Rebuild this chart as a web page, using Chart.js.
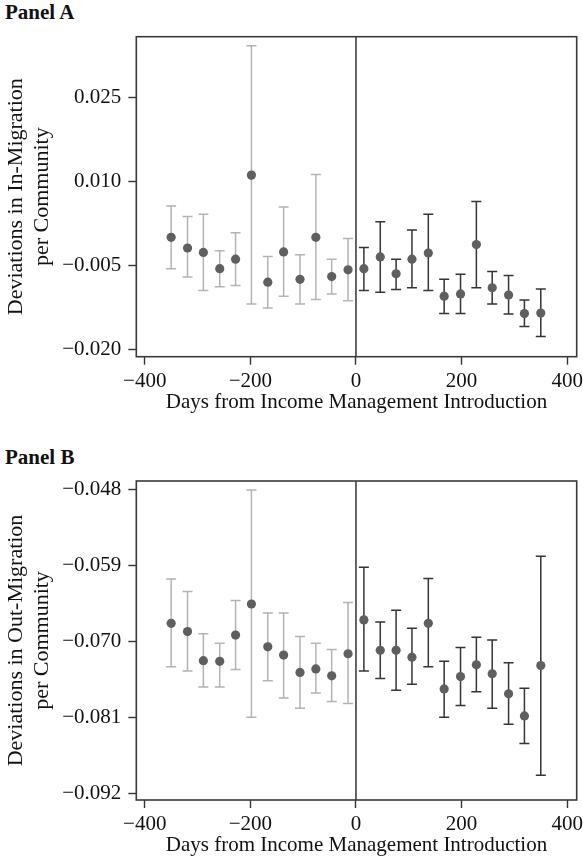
<!DOCTYPE html>
<html>
<head>
<meta charset="utf-8">
<script src="https://cdn.jsdelivr.net/npm/chart.js@4/dist/chart.umd.min.js"></script>
<style>
  html, body { margin: 0; padding: 0; background: #fff; }
  body { width: 583px; height: 863px; position: relative; overflow: hidden; }
  canvas { position: absolute; left: 0; }
  .panel { position: absolute; left: 5px; font: bold 21px "Liberation Serif", "Times New Roman", serif; line-height: 21px; color: #111; }
</style>
</head>
<body>
<div class="panel" style="top:2px">Panel A</div>
<canvas id="chartA" width="583" height="430" style="top:0"></canvas>
<div class="panel" style="top:447px">Panel B</div>
<canvas id="chartB" width="583" height="423" style="top:440px"></canvas>
<script>
// Days from introduction: monthly bins before (light) and after (dark)
const days = [-350, -319, -289, -258, -228, -198, -167, -137, -106, -76, -46, -15,
              15, 46, 76, 106, 137, 167, 198, 228, 258, 289, 319, 350];

// Panel A: in-migration deviations with confidence bounds
const inEst  = [0.0001, -0.0018, -0.0026, -0.0055, -0.0038, 0.0112, -0.0079, -0.0025, -0.0074, 0.0001, -0.0069, -0.0057,
                -0.0055, -0.0034, -0.0064, -0.0038, -0.0027, -0.0104, -0.0100, -0.0012, -0.0089, -0.0102, -0.0135, -0.0134];
const inHigh = [0.0057, 0.0038, 0.0042, -0.0023, 0.0009, 0.0343, -0.0033, 0.0055, -0.0030, 0.0113, -0.0038, -0.0001,
                -0.0017, 0.0029, -0.0038, 0.0014, 0.0042, -0.0074, -0.0065, 0.0065, -0.0060, -0.0067, -0.0111, -0.0091];
const inLow  = [-0.0055, -0.0070, -0.0094, -0.0087, -0.0085, -0.0118, -0.0125, -0.0104, -0.0118, -0.0110, -0.0100, -0.0112,
                -0.0094, -0.0097, -0.0092, -0.0089, -0.0094, -0.0135, -0.0135, -0.0089, -0.0118, -0.0136, -0.0158, -0.0176];

// Panel B: out-migration deviations with confidence bounds
const outEst  = [-0.0674, -0.0686, -0.0728, -0.0729, -0.0691, -0.0646, -0.0708, -0.0720, -0.0745, -0.0740, -0.0750, -0.0718,
                 -0.0669, -0.0713, -0.0713, -0.0723, -0.0674, -0.0769, -0.0751, -0.0734, -0.0747, -0.0776, -0.0808, -0.0735];
const outHigh = [-0.0610, -0.0628, -0.0689, -0.0703, -0.0641, -0.0481, -0.0659, -0.0659, -0.0693, -0.0703, -0.0712, -0.0644,
                 -0.0593, -0.0672, -0.0655, -0.0681, -0.0609, -0.0729, -0.0709, -0.0694, -0.0698, -0.0731, -0.0768, -0.0577];
const outLow  = [-0.0737, -0.0743, -0.0766, -0.0766, -0.0741, -0.0810, -0.0757, -0.0782, -0.0797, -0.0775, -0.0787, -0.0790,
                 -0.0743, -0.0754, -0.0771, -0.0762, -0.0737, -0.0810, -0.0793, -0.0773, -0.0797, -0.0820, -0.0848, -0.0894];

// Axis ticks
const xTicks  = [-400, -200, 0, 200, 400];
const yTicksA = [-0.020, -0.005, 0.010, 0.025];
const yTicksB = [-0.092, -0.081, -0.070, -0.059, -0.048];

const SERIF = '"Liberation Serif", "Times New Roman", serif';
const INK = '#333333';
const PRE_BAR = '#b3b3b3';
const POST_BAR = '#353535';
const DOT = '#5f5f5f';

const minus = s => String(s).replace('-', '\u2212');

// Frame, zero line and whiskers drawn through the chart's scales
const errorBars = {
  id: 'errorBars',
  beforeDatasetsDraw(chart, args, opts) {
    const { ctx, chartArea: a, scales: { x, y } } = chart;
    ctx.save();
    ctx.lineCap = 'butt';
    ctx.lineWidth = 1.5;
    opts.days.forEach((d, i) => {
      const px = x.getPixelForValue(d);
      const top = y.getPixelForValue(opts.high[i]);
      const bot = y.getPixelForValue(opts.low[i]);
      ctx.strokeStyle = d < 0 ? PRE_BAR : POST_BAR;
      ctx.beginPath();
      ctx.moveTo(px, top); ctx.lineTo(px, bot);
      ctx.moveTo(px - 5, top); ctx.lineTo(px + 5, top);
      ctx.moveTo(px - 5, bot); ctx.lineTo(px + 5, bot);
      ctx.stroke();
    });
    // zero reference line
    const zx = x.getPixelForValue(0);
    ctx.strokeStyle = INK;
    ctx.lineWidth = 1.5;
    ctx.beginPath();
    ctx.moveTo(zx, a.top); ctx.lineTo(zx, a.bottom);
    ctx.stroke();
    // plot frame
    ctx.strokeStyle = '#3a3a3a';
    ctx.lineWidth = 1.6;
    ctx.strokeRect(a.left, a.top, a.right - a.left, a.bottom - a.top);
    ctx.restore();
  }
};

function makePanel(id, est, high, low, yTicks, yMin, yMax, yTitle, padTop, padBottom) {
  new Chart(document.getElementById(id), {
    type: 'scatter',
    data: {
      datasets: [{
        data: days.map((d, i) => ({ x: d, y: est[i] })),
        pointRadius: 4.6,
        pointHoverRadius: 4.6,
        pointBackgroundColor: DOT,
        pointBorderWidth: 0,
        showLine: false
      }]
    },
    options: {
      responsive: false,
      animation: false,
      devicePixelRatio: 1,
      layout: { padding: { top: padTop, bottom: padBottom, left: 0, right: 6.3 } },
      plugins: {
        legend: { display: false },
        tooltip: { enabled: false },
        errorBars: { days: days, high: high, low: low }
      },
      scales: {
        x: {
          type: 'linear',
          min: -416, max: 418,
          afterBuildTicks: s => { s.ticks = xTicks.map(v => ({ value: v })); },
          afterFit: s => { s.height = 58; s.paddingLeft = 0; s.paddingRight = 0; },
          grid: { display: true, drawOnChartArea: false, drawTicks: true, tickLength: 8, tickColor: INK, tickWidth: 1.4 },
          border: { display: false },
          ticks: {
            padding: 4, color: '#111', maxRotation: 0, autoSkip: false,
            font: { family: SERIF, size: 21 },
            callback: v => minus(v)
          },
          title: {
            display: true, text: 'Days from Income Management Introduction',
            color: '#111', padding: 0,
            font: { family: SERIF, size: 21 }
          }
        },
        y: {
          type: 'linear',
          min: yMin, max: yMax,
          afterBuildTicks: s => { s.ticks = yTicks.map(v => ({ value: v })); },
          afterFit: s => { s.width = 136.3; s.paddingTop = 0; s.paddingBottom = 0; },
          grid: { display: true, drawOnChartArea: false, drawTicks: true, tickLength: 8, tickColor: INK, tickWidth: 1.4 },
          border: { display: false },
          ticks: {
            padding: 7, color: '#111', autoSkip: false,
            font: { family: SERIF, size: 21 },
            callback: v => minus(v.toFixed(3))
          },
          title: {
            display: true, text: yTitle,
            color: '#111', padding: { top: 3, bottom: 0 },
            font: { family: SERIF, size: 22, lineHeight: '26px' }
          }
        }
      }
    },
    plugins: [errorBars]
  });
}

makePanel('chartA', inEst, inHigh, inLow, yTicksA, -0.0212, 0.0359,
  ['Deviations in In-Migration', 'per Community'], 36.7, 430 - 356.7 - 58);
makePanel('chartB', outEst, outHigh, outLow, yTicksB, -0.09297, -0.0468,
  ['Deviations in Out-Migration', 'per Community'], 41, 423 - 360 - 58);
</script>
</body>
</html>
